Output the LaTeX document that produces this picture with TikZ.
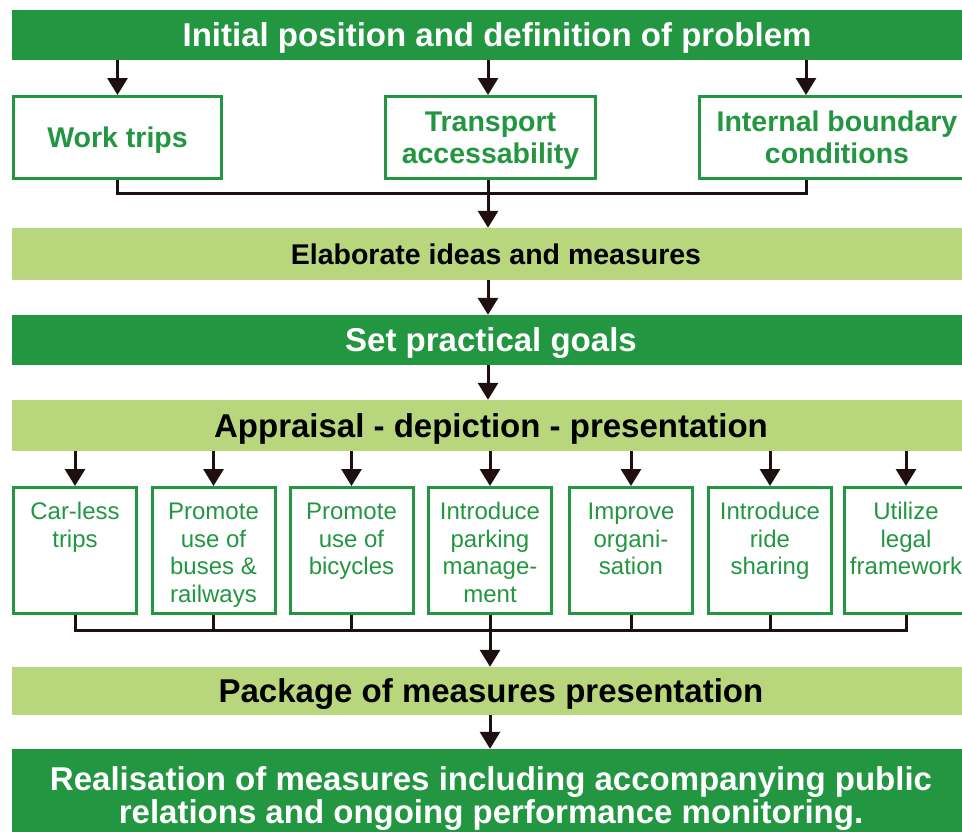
\documentclass[tikz,border=0pt]{standalone}
\usepackage{fontspec}
\setmainfont{Liberation Sans}
\usetikzlibrary{positioning,arrows.meta,calc}
\definecolor{plangreen}{RGB}{35,150,65}
\definecolor{planlight}{RGB}{184,214,124}
\definecolor{planblack}{RGB}{30,16,17}
\newcommand{\toplines}[1]{\parbox[c][100pt][t]{120pt}{\centering\strut #1}}

\begin{document}
\begin{tikzpicture}[x=1pt, y=-1pt,
    darkbar/.style={fill=plangreen, text=white, font=\bfseries\fontsize{33}{33}\selectfont,
      minimum width=958pt, inner sep=0pt, text depth=0pt, align=center},
    lightbar/.style={fill=planlight, text=black, font=\bfseries\fontsize{33}{33}\selectfont,
      minimum width=958pt, inner sep=0pt, text depth=0pt},
    topbox/.style={draw=plangreen, line width=3pt, text=plangreen, align=center, text depth=0pt,
      font=\bfseries\fontsize{28.5}{32}\selectfont, minimum height=82pt, inner sep=0pt},
    measure/.style={draw=plangreen, line width=3pt, text=plangreen,
      font=\fontsize{24}{27.5}\selectfont, minimum width=123pt, minimum height=126pt, inner sep=0pt},
    link/.style={draw=planblack, line width=3pt},
    arr/.style={link, -{Triangle[width=20pt,length=17pt]}}]
  \useasboundingbox (0,0) rectangle (962,831);
  \node[darkbar, minimum height=50pt, minimum width=970pt] (init) at (497,35) {Initial position and definition of problem};
  \node[topbox, minimum width=208pt] (work) at (117.5,137.5) {Work trips};
  \node[topbox, minimum width=210pt] (trans) at (490.5,137.5) {Transport\\accessability};
  \node[topbox, minimum width=275pt] (bound) at (837,137.5) {Internal boundary\\conditions};
  \node[lightbar, minimum height=52pt, minimum width=968pt, font=\bfseries\fontsize{28.5}{32}\selectfont] (elab) at (496,254) {Elaborate ideas and measures};
  \node[darkbar, minimum height=50pt] (goals) at (491,340) {Set practical goals};
  \node[lightbar, minimum height=51pt] (appr) at (491,425.5) {Appraisal - depiction - presentation};
  \node[lightbar, minimum height=48pt] (pack) at (491,691) {Package of measures presentation};
  \node[darkbar, minimum height=92pt] (real) at (491,795) {Realisation of measures including accompanying public\\relations and ongoing performance monitoring.};
  \coordinate (bx) at (806,100);
  \coordinate (join1) at (488,193);
  \coordinate (join2) at (490,630);
  % first row
  \draw[arr] (init.south -| work) -- (work.north);
  \draw[arr] (init.south -| join1) -- (join1 |- trans.north);
  \draw[arr] (init.south -| bx) -- (bx |- bound.north);
  \draw[link] (work.south) |- (join1);
  \draw[link] (bound.south -| bx) |- (join1);
  \draw[link] (trans.south -| join1) -- (join1);
  \draw[arr] (join1) -- (elab.north -| join1);
  \draw[arr] (elab.south -| join1) -- (goals.north -| join1);
  \draw[arr] (goals.south -| join1) -- (appr.north -| join1);
  % measures
  \foreach \i/\xpos/\txt in {1/75/{Car-less\\trips}, 2/213.5/{Promote\\use of\\buses \&\\railways},
      3/351.5/{Promote\\use of\\bicycles}, 4/490/{Introduce\\parking\\manage-\\ment},
      5/631/{Improve\\organi-\\sation}, 6/770/{Introduce\\ride\\sharing}, 7/906/{Utilize\\legal\\framework}}{
    \node[measure] (m\i) at (\xpos,550.5) {\toplines{\txt}};
    \draw[arr] (appr.south -| m\i) -- (m\i.north);
  }
  \draw[link] (m1.south) |- (join2) -| (m7.south);
  \foreach \i in {2,...,6}
    \draw[link] (m\i.south) -- (m\i.south |- join2);
  \draw[arr] (join2) -- (pack.north -| join2);
  \draw[arr] (pack.south -| join2) -- (real.north -| join2);
\end{tikzpicture}
\end{document}
